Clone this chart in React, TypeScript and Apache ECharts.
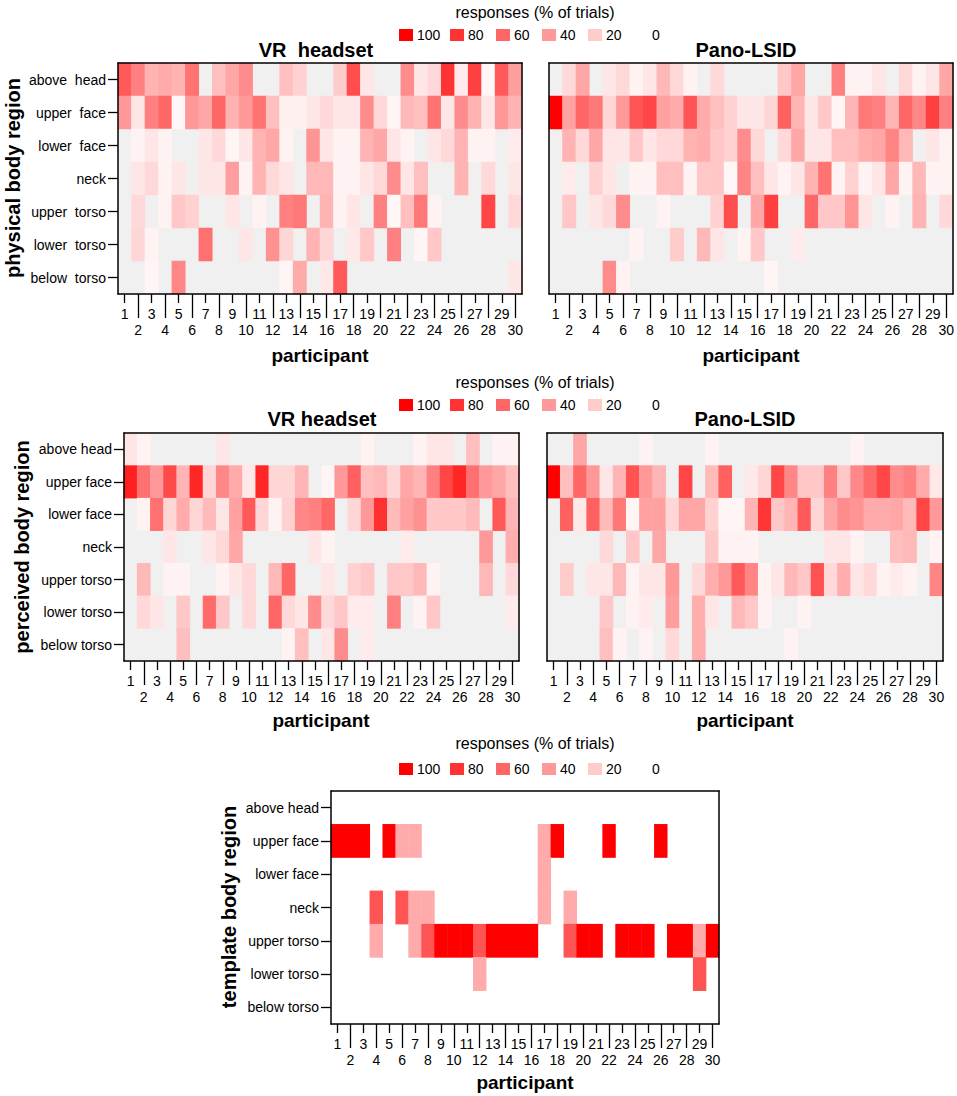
import React, { useEffect, useRef } from "react";
import * as echarts from "echarts";

const FONT = "'Liberation Sans', Arial, sans-serif";

const PARTICIPANTS = ["1","2","3","4","5","6","7","8","9","10","11","12","13","14","15","16","17","18","19","20","21","22","23","24","25","26","27","28","29","30"];

const REGIONS_WIDE = ["above  head", "upper  face", "lower  face", "neck", "upper  torso", "lower  torso", "below  torso"];
const REGIONS = ["above head", "upper face", "lower face", "neck", "upper torso", "lower torso", "below torso"];

const LEGEND_LEVELS = [100, 80, 60, 40, 20, 0];

// rows: above head, upper face, lower face, neck, upper torso, lower torso, below torso
const VR_PHYSICAL = [
  [65,50,30,33,30,55,0,25,35,45,0,0,25,18,0,0,20,70,10,0,0,45,10,15,80,8,75,3,65,38],
  [40,10,50,60,3,40,35,60,30,40,55,25,6,6,10,15,10,10,45,15,4,28,25,55,10,45,30,10,40,30],
  [0,5,10,5,0,0,10,15,4,10,30,35,5,0,42,10,5,5,30,35,10,5,0,10,15,30,5,5,0,8],
  [0,10,15,5,10,0,10,10,38,5,30,15,10,0,28,28,5,5,10,15,45,10,25,0,0,30,0,15,0,10],
  [0,15,0,5,22,18,0,0,10,0,5,0,50,53,0,30,5,10,0,50,3,25,53,5,0,0,0,73,0,15],
  [0,16,5,0,0,0,56,0,0,10,0,43,16,0,30,16,0,9,22,0,50,0,4,22,0,0,0,0,0,0],
  [0,0,4,0,47,0,0,0,0,0,0,0,4,33,0,9,65,0,0,0,0,0,0,0,0,0,0,0,0,10],
];

const PANO_PHYSICAL = [
  [0,15,35,0,10,15,5,10,28,15,5,0,15,0,0,0,0,22,35,0,0,50,5,5,10,0,15,5,10,35],
  [100,37,60,53,16,40,67,73,37,33,67,33,25,18,10,10,16,62,29,10,22,4,29,53,50,29,60,47,75,50],
  [0,30,15,35,10,10,22,10,15,15,30,32,22,18,45,15,0,15,35,10,10,25,25,32,35,48,28,0,10,5],
  [0,8,0,18,10,0,5,5,25,25,5,22,22,3,48,25,10,5,10,30,55,5,18,5,10,35,5,28,5,5],
  [0,22,0,10,15,45,0,0,5,0,0,0,18,70,0,35,75,0,0,60,22,22,42,10,0,5,0,30,0,15],
  [0,0,0,0,0,0,5,0,0,20,0,28,10,0,5,22,0,0,8,0,0,0,0,0,0,0,0,0,0,0],
  [0,0,0,0,45,5,0,0,0,0,0,0,0,0,0,0,4,0,0,0,0,0,0,0,0,0,0,0,0,0],
];

const VR_PERCEIVED = [
  [10,5,0,0,0,0,0,10,0,0,0,0,0,0,0,0,0,0,5,0,0,0,5,10,10,0,25,0,5,5],
  [87,56,40,71,29,85,16,47,33,9,85,16,16,29,0,4,40,62,25,28,16,35,29,50,73,85,56,40,35,25],
  [0,5,56,16,33,16,27,10,37,65,16,5,18,47,50,60,0,16,40,81,27,37,43,22,22,22,27,0,65,29],
  [0,0,0,10,0,0,10,15,35,0,0,0,0,0,10,5,0,0,0,0,0,8,0,0,0,0,0,40,0,32],
  [0,28,0,5,5,0,0,5,10,15,0,28,60,0,0,10,0,18,22,0,22,22,28,5,0,0,0,28,0,15],
  [0,15,10,0,22,0,58,22,0,15,0,60,15,10,45,15,22,8,8,0,50,0,5,22,0,0,0,0,0,8],
  [0,0,0,0,25,0,0,0,0,0,0,0,5,25,0,10,45,0,8,0,0,0,0,0,0,0,0,0,0,0],
];

const PANO_PERCEIVED = [
  [0,0,35,0,0,0,0,5,0,0,0,0,5,0,0,0,0,0,0,0,0,0,0,5,0,0,0,0,0,0],
  [100,25,60,40,10,29,68,40,29,0,73,0,27,62,0,9,16,73,47,22,22,50,22,47,58,72,45,50,33,9],
  [0,62,9,62,27,53,4,37,37,16,35,35,18,4,4,29,79,22,29,65,16,35,45,42,33,33,35,27,73,40],
  [0,0,0,0,15,0,22,0,35,0,0,0,22,5,5,5,0,0,0,0,0,10,10,5,0,0,25,28,0,5],
  [0,20,0,10,10,28,5,10,10,40,0,15,32,40,65,48,5,10,28,22,68,15,32,10,15,5,8,5,0,48],
  [0,0,0,0,22,0,5,8,0,38,0,32,10,0,28,22,5,0,0,5,0,0,0,0,0,0,0,0,0,0],
  [0,0,0,0,25,5,0,5,0,15,0,32,0,0,0,0,0,0,5,0,0,0,0,0,0,0,0,0,0,0],
];

const TEMPLATE = [
  [0,0,0,0,0,0,0,0,0,0,0,0,0,0,0,0,0,0,0,0,0,0,0,0,0,0,0,0,0,0],
  [100,100,100,0,100,33,33,0,0,0,0,0,0,0,0,0,33,100,0,0,0,100,0,0,0,100,0,0,0,0],
  [0,0,0,0,0,0,0,0,0,0,0,0,0,0,0,0,33,0,0,0,0,0,0,0,0,0,0,0,0,0],
  [0,0,0,67,0,67,33,33,0,0,0,0,0,0,0,0,33,0,33,0,0,0,0,0,0,0,0,0,0,0],
  [0,0,0,33,0,0,33,67,100,100,100,67,100,100,100,100,0,0,67,100,100,0,100,100,100,0,100,100,33,100],
  [0,0,0,0,0,0,0,0,0,0,0,33,0,0,0,0,0,0,0,0,0,0,0,0,0,0,0,0,67,0],
  [0,0,0,0,0,0,0,0,0,0,0,0,0,0,0,0,0,0,0,0,0,0,0,0,0,0,0,0,0,0],
];

const PANELS = [
  { data: VR_PHYSICAL, labels: REGIONS_WIDE, showY: true, left: 118, top: 63, width: 404, height: 231, bg: "#f0f0f0" },
  { data: PANO_PHYSICAL, labels: REGIONS_WIDE, showY: false, left: 549, top: 63, width: 404, height: 231, bg: "#f0f0f0" },
  { data: VR_PERCEIVED, labels: REGIONS, showY: true, left: 124, top: 433, width: 395, height: 228, bg: "#f0f0f0" },
  { data: PANO_PERCEIVED, labels: REGIONS, showY: false, left: 547, top: 433, width: 396, height: 228, bg: "#f0f0f0" },
  { data: TEMPLATE, labels: REGIONS, showY: true, left: 331, top: 791, width: 388, height: 233, bg: "#ffffff" },
];

function levelColor(v: number) {
  const g = Math.round(255 * (1 - v / 100));
  return `rgb(255,${g},${g})`;
}

function toCells(rows: number[][]) {
  const out: number[][] = [];
  rows.forEach((row, r) => row.forEach((v, c) => { if (v > 0) out.push([c, r, v]); }));
  return out;
}

function txt(text: string, x: number, y: number, size: number, bold = false, align = "center", rotation = 0) {
  return {
    type: "text", x, y, rotation, z: 100,
    style: {
      text, fill: "#000", fontSize: size, fontWeight: bold ? "bold" : "normal", fontFamily: FONT,
      textAlign: align, textVerticalAlign: "middle", align, verticalAlign: "middle",
    },
  };
}

function buildOption() {
  const grid: any[] = [];
  const xAxis: any[] = [];
  const yAxis: any[] = [];
  const series: any[] = [];
  const black = { color: "#000", width: 1.5 };

  PANELS.forEach((p, g) => {
    grid.push({ left: p.left, top: p.top, width: p.width, height: p.height, show: true, backgroundColor: p.bg, borderWidth: 0, containLabel: false, outerBoundsMode: "none" });
    xAxis.push({
      gridIndex: g, type: "category", data: PARTICIPANTS, position: "bottom", z: 10,
      axisLine: { show: true, onZero: false, lineStyle: black },
      axisTick: { show: true, alignWithLabel: true, length: 9, interval: (i: number) => i % 2 === 0, lineStyle: { color: "#000", width: 1.3 } },
      axisLabel: { show: true, interval: 0, margin: 12, fontSize: 14, lineHeight: 16, color: "#000", fontFamily: FONT,
        formatter: (v: string, i: number) => (i % 2 === 0 ? v : "\n" + v) },
      splitLine: { show: false },
    });
    xAxis.push({
      gridIndex: g, type: "category", data: PARTICIPANTS, position: "bottom", z: 10,
      axisLine: { show: false, onZero: false },
      axisTick: { show: true, alignWithLabel: true, length: 24, interval: (i: number) => i % 2 === 1, lineStyle: { color: "#000", width: 1.3 } },
      axisLabel: { show: false }, splitLine: { show: false },
    });
    xAxis.push({
      gridIndex: g, type: "category", data: PARTICIPANTS, position: "top", z: 10,
      axisLine: { show: true, onZero: false, lineStyle: black },
      axisTick: { show: false }, axisLabel: { show: false }, splitLine: { show: false },
    });
    yAxis.push({
      gridIndex: g, type: "category", data: p.labels, inverse: true, position: "left", z: 10,
      axisLine: { show: true, onZero: false, lineStyle: black },
      axisTick: { show: p.showY, alignWithLabel: true, length: 10, lineStyle: { color: "#000", width: 1.3 } },
      axisLabel: { show: p.showY, interval: 0, margin: 12, fontSize: 14, color: "#000", fontFamily: FONT },
      splitLine: { show: false },
    });
    yAxis.push({
      gridIndex: g, type: "category", data: p.labels, inverse: true, position: "right", z: 10,
      axisLine: { show: true, onZero: false, lineStyle: black },
      axisTick: { show: false }, axisLabel: { show: false }, splitLine: { show: false },
    });
    series.push({
      type: "heatmap", xAxisIndex: 3 * g, yAxisIndex: 2 * g, data: toCells(p.data),
      itemStyle: { borderWidth: 0 }, emphasis: { disabled: true }, progressive: 0, animation: false,
    });
  });

  const graphic: any[] = [];
  const legendBlocks = [{ ty: 12, ly: 35 }, { ty: 382, ly: 405 }, { ty: 743, ly: 769 }];
  const sqX = [399, 450, 496, 542, 588, 634];
  legendBlocks.forEach((b) => {
    graphic.push(txt("responses (% of trials)", 535, b.ty, 16));
    LEGEND_LEVELS.forEach((lv, i) => {
      graphic.push({ type: "rect", x: sqX[i], y: b.ly - 6, shape: { width: 14, height: 12 }, style: { fill: levelColor(lv) }, z: 100 });
      graphic.push(txt(String(lv), sqX[i] + 18, b.ly, 14, false, "left"));
    });
  });

  graphic.push(txt("VR  headset", 316, 50, 20, true));
  graphic.push(txt("Pano-LSID", 746, 50, 20, true));
  graphic.push(txt("VR headset", 322, 419, 20, true));
  graphic.push(txt("Pano-LSID", 745, 419, 20, true));

  graphic.push(txt("physical body region", 13, 178, 20, true, "center", Math.PI / 2));
  graphic.push(txt("perceived body region", 22, 547, 20, true, "center", Math.PI / 2));
  graphic.push(txt("template body region", 229, 907, 20, true, "center", Math.PI / 2));

  graphic.push(txt("participant", 320, 355, 19, true));
  graphic.push(txt("participant", 751, 355, 19, true));
  graphic.push(txt("participant", 321, 720, 19, true));
  graphic.push(txt("participant", 745, 720, 19, true));
  graphic.push(txt("participant", 525, 1082, 19, true));

  return {
    animation: false,
    backgroundColor: "#ffffff",
    textStyle: { fontFamily: FONT },
    grid, xAxis, yAxis, series,
    visualMap: {
      type: "continuous", show: false, min: 0, max: 100, dimension: 2,
      seriesIndex: [0, 1, 2, 3, 4], inRange: { color: ["#ffffff", "#ff0000"] },
    },
    graphic,
  };
}

export default function App() {
  const ref = useRef<HTMLDivElement>(null);
  useEffect(() => {
    if (!ref.current) return;
    const chart = echarts.init(ref.current, null, { renderer: "svg" });
    chart.setOption(buildOption() as any);
    return () => chart.dispose();
  }, []);
  return <div ref={ref} style={{ position: "absolute", left: 0, top: 0, width: 957, height: 1096, background: "#fff" }} />;
}
